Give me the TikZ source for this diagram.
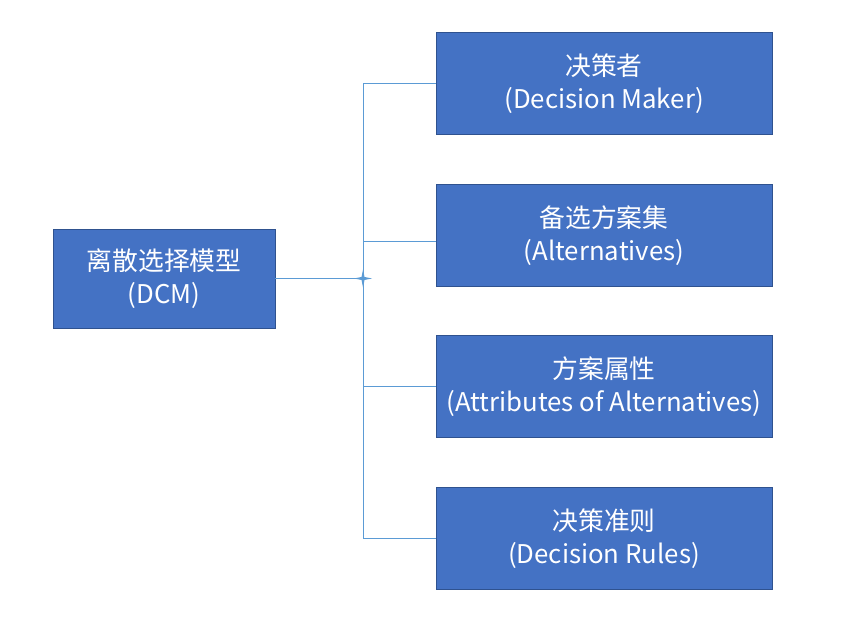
\documentclass[tikz,border=0pt]{standalone}
\usepackage{fontspec}
\setmainfont{Noto Sans CJK SC}
\usepackage{xcolor}
\usepackage{tikz}
\usetikzlibrary{calc,positioning}
\definecolor{boxfill}{HTML}{4472C4}
\definecolor{boxline}{HTML}{2F528F}
\definecolor{link}{HTML}{5B9BD5}
\tikzset{
  ModelBox/.style={
    draw=boxline, fill=boxfill, line width=0.8pt,
    text=white, align=center, inner sep=0pt,
    font=\fontsize{22pt}{28pt}\selectfont
  },
  DcmBox/.style={ModelBox, minimum width=6.66cm, minimum height=2.97cm},
  ItemBox/.style={ModelBox, minimum width=10.08cm, minimum height=3.06cm},
  LinkLine/.style={draw=link, line width=0.8pt}
}

\begin{document}
\begin{tikzpicture}[x=0.03cm, y=-0.03cm, line cap=butt, line join=miter]
  \useasboundingbox (0,0) rectangle (866,629);

  % main model box on the left
  \node[DcmBox] (dcm) at (164,278.5) {离散选择模型\\(DCM)};

  % the four parts on the right
  \node[ItemBox] (maker) at (604,83.5)  {决策者\\(Decision Maker)};
  \node[ItemBox] (alts)  at (604,235.5) {备选方案集\\(Alternatives)};
  \node[ItemBox] (attrs) at (604,386.5) {方案属性\\(Attributes of Alternatives)};
  \node[ItemBox] (rules) at (604,538.5) {决策准则\\(Decision Rules)};

  % junction on the trunk line
  \coordinate (hub) at (363,278.5);

  \draw[LinkLine] (dcm.east) -- (hub);
  \draw[LinkLine] (hub) |- (maker.west);
  \draw[LinkLine] (hub) |- ([yshift=-0.17cm]alts.west);
  \draw[LinkLine] (hub) |- (attrs.west);
  \draw[LinkLine] (hub) |- (rules.west);

  % small star marker at the junction
  \fill[link] ($(hub)+(-9,0)$) -- ($(hub)+(-1.5,-1.5)$) -- ($(hub)+(0,-9)$)
    -- ($(hub)+(1.5,-1.5)$) -- ($(hub)+(9,0)$) -- ($(hub)+(1.5,1.5)$)
    -- ($(hub)+(0,9)$) -- ($(hub)+(-1.5,1.5)$) -- cycle;
\end{tikzpicture}
\end{document}
